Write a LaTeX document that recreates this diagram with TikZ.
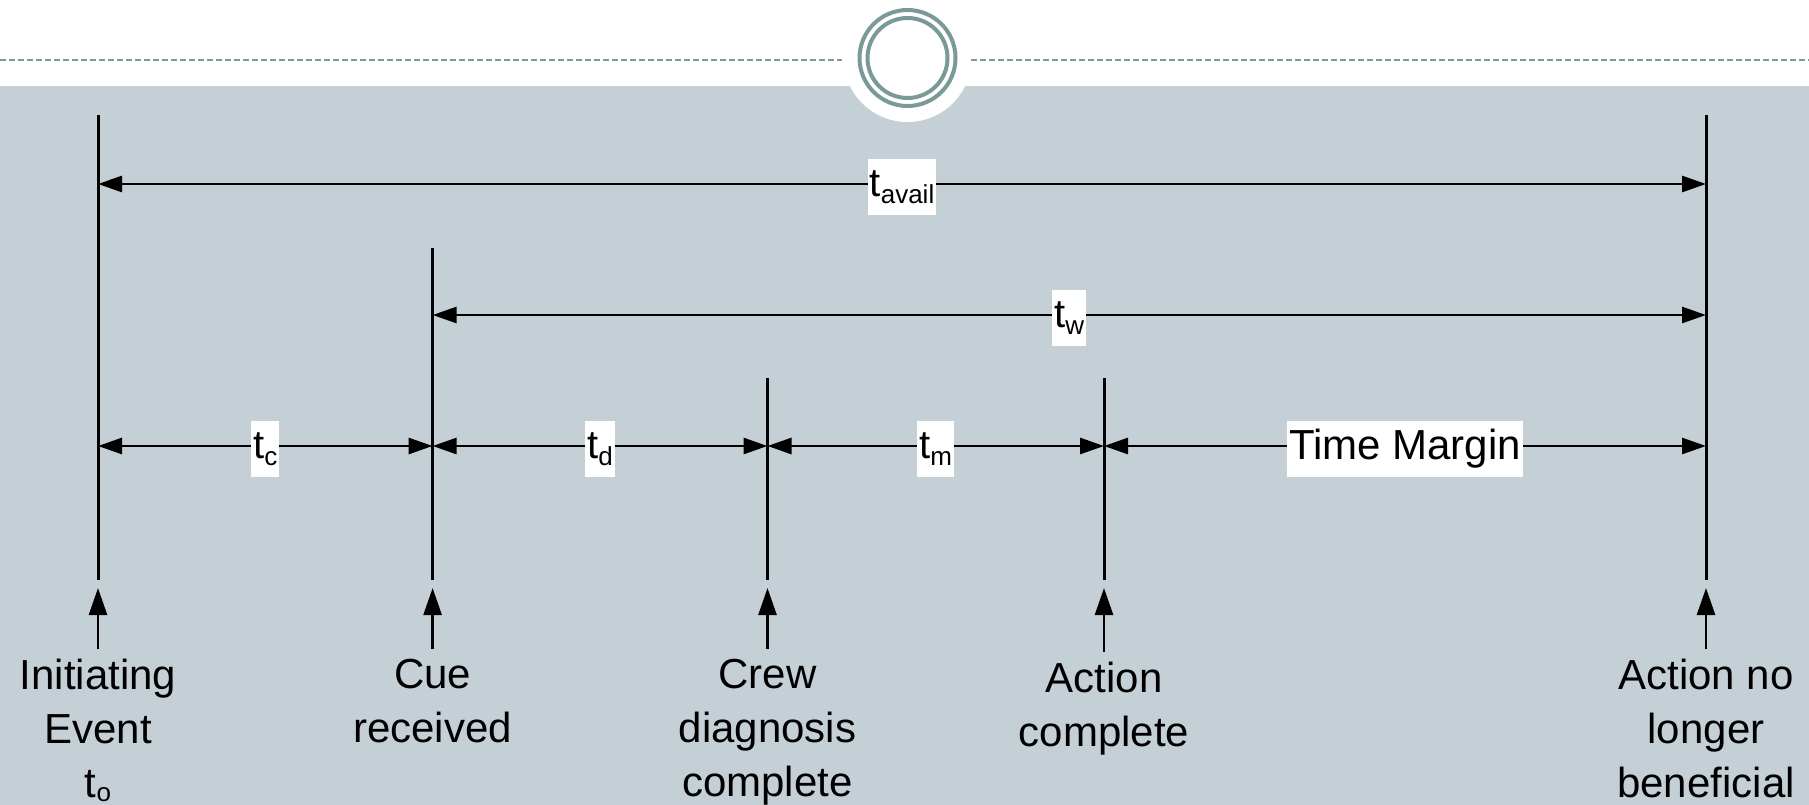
\documentclass[tikz,border=0pt]{standalone}
\usepackage{fontspec}
\setmainfont{Liberation Sans}
\usetikzlibrary{arrows.meta}
\definecolor{bggray}{RGB}{197,208,214}
\definecolor{ringteal}{RGB}{122,154,152}
\newcommand{\lowsub}[2][7pt]{\raisebox{-#1}{\fontsize{26}{26}\selectfont #2}}
\tikzset{
  vline/.style={line width=3pt, black},
  dimarrow/.style={line width=2.8pt, {Triangle[length=24pt,width=16pt]}-{Triangle[length=24pt,width=16pt]}},
  uparrow/.style={line width=2.6pt, -{Triangle[length=27pt,width=18pt]}, shorten <=10pt, shorten >=8pt},
  dimlabel/.style={fill=white, inner xsep=2pt, inner ysep=0pt, minimum height=56pt, font=\fontsize{40}{48}\selectfont, yshift=-3pt},
  evlabel/.style={align=center, anchor=north, inner sep=0pt, font=\fontsize{42}{54}\selectfont},
  dashrule/.style={ringteal, line width=1.6pt, dash pattern=on 6pt off 3pt},
  ring/.style={ringteal, line width=4pt},
}
\begin{document}
\begin{tikzpicture}[x=1pt,y=-1pt]
\useasboundingbox (0,0) rectangle (1809,805);
% background
\fill[white] (0,0) rectangle (1809,805);
\fill[bggray] (0,86) rectangle (1809,805);
\fill[white] (907.5,58) circle[radius=64pt];
\coordinate (dl1) at (0,60);
\coordinate (dl2) at (842,60);
\coordinate (dr1) at (971,60);
\coordinate (dr2) at (1809,60);
\draw[dashrule] (dl1) -- (dl2);
\draw[dashrule] (dr1) -- (dr2);
\coordinate (rc) at (907.5,58);
\draw[ring] (rc) circle[radius=48pt];
\draw[ring] (rc) circle[radius=40pt];
% vertical lines
\coordinate (v1t) at (98,115);    \coordinate (v1b) at (98,580);
\coordinate (v2t) at (432.6,248); \coordinate (v2b) at (432.6,580);
\coordinate (v3t) at (767.5,378); \coordinate (v3b) at (767.5,580);
\coordinate (v4t) at (1104,378);  \coordinate (v4b) at (1104,580);
\coordinate (v5t) at (1706,115);  \coordinate (v5b) at (1706,580);
\foreach \i in {1,...,5} { \draw[vline] (v\i t) -- (v\i b); }
% rows
\coordinate (rA) at (0,184);
\coordinate (rB) at (0,315);
\coordinate (rC) at (0,446);
\draw[dimarrow] (v1t |- rA) -- (v5t |- rA) node[midway, dimlabel] (lavail) {t\lowsub{avail}};
\draw[dimarrow] (v2t |- rB) -- (v5t |- rB) node[midway, dimlabel] (lw) {t\lowsub{w}};
\draw[dimarrow] (v1t |- rC) -- (v2t |- rC) node[midway, dimlabel] (lc) {t\lowsub{c}};
\draw[dimarrow] (v2t |- rC) -- (v3t |- rC) node[midway, dimlabel] (ld) {t\lowsub{d}};
\draw[dimarrow] (v3t |- rC) -- (v4t |- rC) node[midway, dimlabel] (lm) {t\lowsub{m}};
\draw[dimarrow] (v4t |- rC) -- (v5t |- rC) node[midway, dimlabel, font=\fontsize{42}{48}\selectfont] (lmargin) {Time Margin\hspace{14pt}};
% event labels
\node[evlabel] (e1) at (98,659) {Initiating\\Event\\t\lowsub[4pt]{o}};
\node[evlabel] (e2) at (432.6,659) {Cue\\received};
\node[evlabel] (e3) at (767.5,659) {Crew\\diagnosis\\complete};
\node[evlabel] (e4) at (1104,662) {Action\\complete};
\node[evlabel] (e5) at (1706,659) {Action no\\longer\\beneficial};
\foreach \i in {1,...,5} { \draw[uparrow] (e\i.north) -- (v\i b); }
\end{tikzpicture}
\end{document}
